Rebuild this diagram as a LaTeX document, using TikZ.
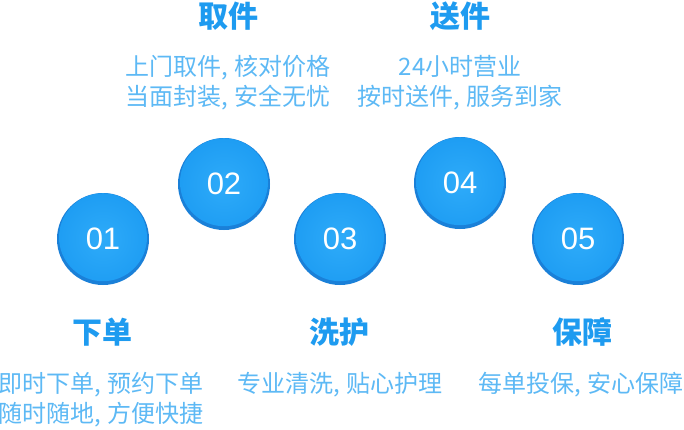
\documentclass[tikz,border=0pt]{standalone}
\usepackage{fontspec}
\newfontfamily\cjk{Noto Sans CJK SC}
\newfontfamily\numfont{Liberation Sans}
\definecolor{titlec}{HTML}{1E9BF0}
\definecolor{subc}{HTML}{5DB9F5}
\definecolor{rimc}{HTML}{1A80D8}
\definecolor{ballin}{HTML}{2EABF9}
\definecolor{ballout}{HTML}{1E9DF3}
\begin{document}
\begin{tikzpicture}[x=1pt,y=-1pt,
  ball/.style={circle, minimum size=92pt, inner sep=0pt, fill=rimc, text=white,
    font=\numfont\fontsize{31}{32}\selectfont,
    path picture={\shade[inner color=ballin, outer color=ballout]
      ([yshift=1.8pt]path picture bounding box.center) circle (44pt);}},
  ttl/.style={text=titlec, font=\cjk\bfseries\fontsize{30}{32}\selectfont, inner sep=0pt},
  sub/.style={text=subc, font=\cjk\fontsize{24}{30}\selectfont, align=center, inner sep=0pt}]
\useasboundingbox (0,0) rectangle (684,429);
\fill[white] (0,0) rectangle (684,429);
\node[ball] (b1) at (103,239) {01};
\node[ball] (b2) at (224,184) {02};
\node[ball] (b3) at (340,239) {03};
\node[ball] (b4) at (460,183) {04};
\node[ball] (b5) at (578,239) {05};
\node[ttl] (t2) at (228,16) {取件};
\node[sub] (s2) at (228,83) {上门取件, 核对价格\\当面封装, 安全无忧};
\node[ttl] (t4) at (460,16) {送件};
\node[sub] (s4) at (460,83) {24小时营业\\按时送件, 服务到家};
\node[ttl] (t1) at (102,332) {下单};
\node[sub] (s1) at (101,400) {即时下单, 预约下单\\随时随地, 方便快捷};
\node[ttl] (t3) at (339,332) {洗护};
\node[sub] (s3) at (340,385) {专业清洗, 贴心护理};
\node[ttl] (t5) at (582,332) {保障};
\node[sub] (s5) at (581,385) {每单投保, 安心保障};
\end{tikzpicture}
\end{document}
